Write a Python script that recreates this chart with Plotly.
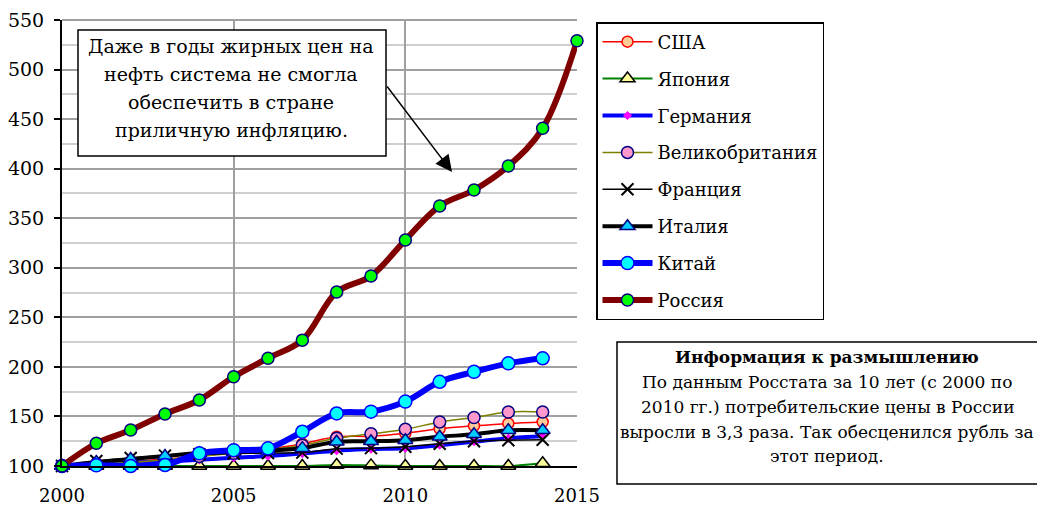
import plotly.graph_objects as go

# Consumer price index, 2000 = 100
years = list(range(2000, 2015))
years_ru = list(range(2000, 2016))

usa = [100, 102.8, 104.5, 107, 110, 113.5, 117, 122.5, 129.5, 130, 133, 137.5, 140.5, 143, 144.5]
japan = [100, 100, 100, 100, 100, 100, 100, 100, 101, 100.6, 100, 100, 100, 100, 102.8]
germany = [100, 102, 103.4, 104.5, 106.2, 108.3, 110, 112.5, 115.5, 117, 118, 121, 124.5, 128, 130]
britain = [100, 101.8, 103.5, 106.5, 109.7, 112.8, 116.4, 121, 128, 132.5, 137, 144.5, 149, 154.5, 154.5]
france = [100, 105, 108, 110.5, 112, 112.5, 113, 113.5, 117.5, 118, 119.5, 122.5, 125, 126, 126.5]
italy = [100, 104, 107, 110, 113, 114, 115.5, 118, 124.5, 125, 126, 129.5, 132, 136, 136]
china = [100, 100.7, 100, 101, 112.8, 116, 117.8, 134.6, 153, 154.8, 165, 185, 195, 203.6, 208.7]
russia = [100, 122.9, 136.3, 152.5, 166.6, 190.1, 208.7, 227, 275.6, 291.7, 328, 362.4, 378.5, 402.7, 440.7, 529]

y_ticks = list(range(100, 551, 50))
x_ticks = [2000, 2005, 2010, 2015]

note_main_lines = ["Даже в годы жирных цен на", "нефть система не смогла",
                   "обеспечить в стране", "приличную инфляцию."]
note_info_lines = ["<b>Информация к размышлению</b>", "По данным Росстата за 10 лет (с 2000 по",
                   "2010 гг.) потребительские цены в России",
                   "выросли в 3,3 раза. Так обесценился рубль за", "этот период."]

FONT = "DejaVu Serif"
W, H = 1037, 506
L, R, T, B = 62, 577, 20, 466


def px(xp):
    return (xp - L) / (R - L)


def py(yp):
    return (B - yp) / (B - T)


series = [
    dict(name="США", x=years, y=usa, line=dict(color="#FF0000", width=1.5),
         marker=dict(symbol="circle", size=11, color="#FFCC99", line=dict(color="#FF0000", width=1.5))),
    dict(name="Япония", x=years, y=japan, line=dict(color="#008000", width=2),
         marker=dict(symbol="triangle-up", size=13, color="#FFFF99", line=dict(color="#000000", width=1.5))),
    dict(name="Германия", x=years, y=germany, line=dict(color="#0000FF", width=4),
         marker=dict(symbol="diamond", size=7, color="#FF00FF", line=dict(color="#FF00FF", width=0))),
    dict(name="Великобритания", x=years, y=britain, line=dict(color="#808000", width=1.5),
         marker=dict(symbol="circle", size=12, color="#FF99CC", line=dict(color="#000080", width=1.5))),
    dict(name="Франция", x=years, y=france, line=dict(color="#000000", width=1.5),
         marker=dict(symbol="x-thin", size=12, color="#000000", line=dict(color="#000000", width=2))),
    dict(name="Италия", x=years, y=italy, line=dict(color="#000000", width=4),
         marker=dict(symbol="triangle-up", size=13, color="#00CCFF", line=dict(color="#000080", width=1.5))),
    dict(name="Китай", x=years, y=china, line=dict(color="#0000FF", width=6),
         marker=dict(symbol="circle", size=13, color="#00FFFF", line=dict(color="#0000FF", width=1.5))),
    dict(name="Россия", x=years_ru, y=russia, line=dict(color="#800000", width=6),
         marker=dict(symbol="circle", size=12, color="#00FF00", line=dict(color="#000080", width=1.5))),
]

fig = go.Figure()
for i, s in enumerate(series):
    fig.add_trace(go.Scatter(
        x=s["x"], y=s["y"], name=s["name"], mode="lines+markers",
        line=dict(shape="spline", smoothing=1.0, **s["line"]),
        marker=s["marker"], cliponaxis=False, legendgroup=f"g{i}",
    ))

annotations = []
# Callout box text, one annotation per line for even leading
for text, yc in zip(note_main_lines, [46, 74, 102, 130]):
    annotations.append(dict(xref="paper", yref="paper", x=px(231), y=py(yc), text=text,
                            showarrow=False, xanchor="center", yanchor="middle",
                            font=dict(family=FONT, size=19, color="black")))
annotations.append(dict(xref="paper", yref="paper", x=px(452), y=py(172), ax=386 - 452, ay=85 - 172,
                        axref="pixel", ayref="pixel", text="", showarrow=True,
                        arrowhead=2, arrowsize=2.2, arrowwidth=1.5, arrowcolor="black"))
for text, yc in zip(note_info_lines, [357, 382, 407, 432, 456]):
    annotations.append(dict(xref="paper", yref="paper", x=px(827), y=py(yc), text=text,
                            showarrow=False, xanchor="center", yanchor="middle",
                            font=dict(family=FONT, size=17, color="black")))

fig.update_layout(
    width=W, height=H,
    margin=dict(l=L, r=W - R, t=T, b=H - B, autoexpand=False),
    paper_bgcolor="white", plot_bgcolor="white",
    font=dict(family=FONT, size=18, color="black"),
    showlegend=True,
    legend=dict(
        x=px(596), y=py(22), xanchor="left", yanchor="top",
        bordercolor="black", borderwidth=1.5, bgcolor="white",
        font=dict(family=FONT, size=18, color="black"),
        tracegroupgap=10.5, itemwidth=50,
    ),
    xaxis=dict(
        range=[2000, 2015], tickvals=x_ticks, ticktext=[str(v) for v in x_ticks],
        showgrid=True, gridcolor="#A0A0A0", gridwidth=2,
        showline=True, linecolor="black", linewidth=2,
        ticks="", zeroline=False, ticklabelstandoff=12, automargin=False,
        tickfont=dict(family=FONT, size=18, color="black"),
    ),
    yaxis=dict(
        range=[100, 550], tickvals=y_ticks, ticktext=[str(v) for v in y_ticks],
        showgrid=True, gridcolor="#A0A0A0", gridwidth=2,
        minor=dict(dtick=25, tick0=100, showgrid=True, gridcolor="#CFCFCF", gridwidth=2),
        showline=True, linecolor="black", linewidth=2,
        ticks="outside", ticklen=6, tickcolor="black", tickwidth=1.5,
        zeroline=False, ticklabelstandoff=6, automargin=False,
        tickfont=dict(family=FONT, size=19, color="black"),
    ),
    shapes=[
        dict(type="line", xref="paper", yref="paper", x0=0, x1=1, y0=1, y1=1,
             line=dict(color="#A0A0A0", width=2), layer="below"),
        dict(type="rect", xref="paper", yref="paper",
             x0=px(78), x1=px(386), y0=py(156), y1=py(30),
             line=dict(color="black", width=1.5), fillcolor="white", layer="above"),
        dict(type="rect", xref="paper", yref="paper",
             x0=px(617), x1=px(1050), y0=py(484), y1=py(342),
             line=dict(color="black", width=1.5), fillcolor="white", layer="above"),
    ],
    annotations=annotations,
)

fig.write_html("out.html")
